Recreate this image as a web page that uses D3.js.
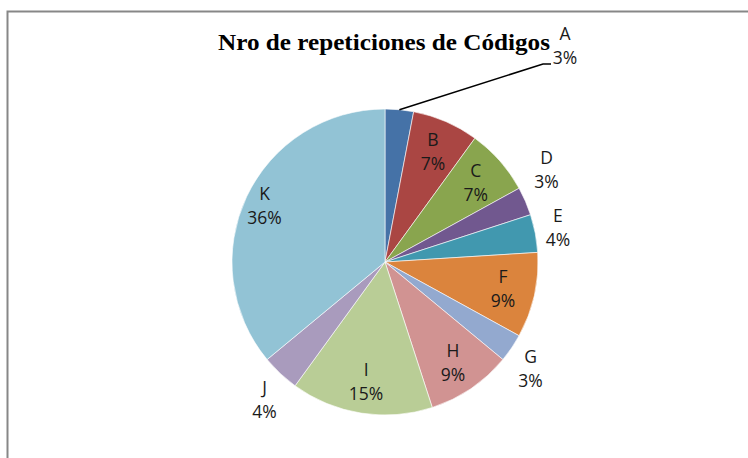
<!DOCTYPE html>
<html>
<head>
<meta charset="utf-8">
<script src="https://cdnjs.cloudflare.com/ajax/libs/d3/7.8.5/d3.min.js"></script>
<style>
  body { margin: 0; background: #fff; }
  svg { display: block; }
</style>
</head>
<body>
<div id="chart"></div>
<script>
// chart data
var codes = ["A", "B", "C", "D", "E", "F", "G", "H", "I", "J", "K"];
var counts = [3, 7, 7, 3, 4, 9, 3, 9, 15, 4, 36];
var colors = ["#4572A7", "#AA4643", "#89A54E", "#71588F", "#4198AF", "#DB843D",
              "#93A9CF", "#D19392", "#B9CD96", "#A99BBD", "#92C3D5"];
var title = "Nro de repeticiones de Códigos";

var width = 748, height = 458;
var cx = 385, cy = 262, R = 153;

var svg = d3.select("#chart").append("svg")
  .attr("width", width)
  .attr("height", height);

// chart area border (runs off the right and bottom)
svg.append("rect")
  .attr("x", 7.5).attr("y", 11.5)
  .attr("width", 800).attr("height", 500)
  .attr("fill", "none")
  .attr("stroke", "#878787")
  .attr("stroke-width", 2);

svg.append("text")
  .attr("x", 218).attr("y", 50)
  .attr("textLength", 332)
  .attr("lengthAdjust", "spacingAndGlyphs")
  .style("font-family", "'Liberation Serif', 'Times New Roman', serif")
  .style("font-weight", "bold")
  .style("font-size", "24px")
  .text(title);

var total = d3.sum(counts);
var rows = codes.map(function (c, i) { return { code: c, n: counts[i], color: colors[i] }; });

var pie = d3.pie().sort(null).value(function (d) { return d.n; });
var arcs = pie(rows);
var arc = d3.arc().innerRadius(0).outerRadius(R);

var g = svg.append("g").attr("transform", "translate(" + cx + "," + cy + ")");

g.selectAll("path")
  .data(arcs).enter()
  .append("path")
  .attr("d", arc)
  .attr("fill", function (d) { return d.data.color; })
  .attr("stroke", "#fff")
  .attr("stroke-width", 0.6);

// label placement: big slices inside, small ones outside (box touching the rim)
var boxW = 26, boxH = 50, gap = 10;
function labelPos(d) {
  var a = (d.startAngle + d.endAngle) / 2;
  var share = d.data.n / total;
  var s = Math.sin(a), c = -Math.cos(a);
  if (share < 0.05) {
    var r = R + gap;
    return [s * r + s * boxW / 2, c * r + c * boxH / 2, true];
  }
  var ri = share > 0.3 ? R * 0.87 : R * 0.79;
  return [s * ri, c * ri, false];
}

var pos = arcs.map(labelPos);
pos[0] = [180, -217, true]; // first label pulled out by the leader line
// push apart outside labels that crowd each other
for (var i = 2; i < pos.length; i++) {
  if (pos[i][2] && pos[i - 1][2] && i - 1 > 0) {
    var dy = pos[i][1] - pos[i - 1][1];
    if (Math.abs(dy) < boxH + 6 && Math.abs(pos[i][0] - pos[i - 1][0]) < boxW + 10) {
      pos[i - 1][1] = pos[i][1] - (boxH + 8);
    }
  }
}

function pct(d) { return Math.round(d.data.n / total * 100) + "%"; }

var labels = g.selectAll("g.lbl")
  .data(arcs).enter()
  .append("g")
  .attr("class", "lbl")
  .attr("transform", function (d, i) {
    return "translate(" + pos[i][0] + "," + pos[i][1] + ")";
  });

labels.append("text")
  .attr("text-anchor", "middle")
  .attr("y", -5)
  .style("font-family", "'Open Sans', sans-serif")
  .style("font-size", "17.5px")
  .attr("fill", "#1a1a1a")
  .text(function (d) { return d.data.code; });

labels.append("text")
  .attr("text-anchor", "middle")
  .attr("y", 19)
  .style("font-family", "'Open Sans', sans-serif")
  .style("font-size", "17.5px")
  .attr("fill", "#1a1a1a")
  .text(pct);

// leader line for A
var a0 = (arcs[0].startAngle + arcs[0].endAngle) / 2;
g.append("path")
  .attr("d", d3.line()([
    [Math.sin(a0) * R, -Math.cos(a0) * R],
    [158, -198],
    [166, -198]
  ]))
  .attr("fill", "none")
  .attr("stroke", "#000")
  .attr("stroke-width", 1.5);
</script>
</body>
</html>
